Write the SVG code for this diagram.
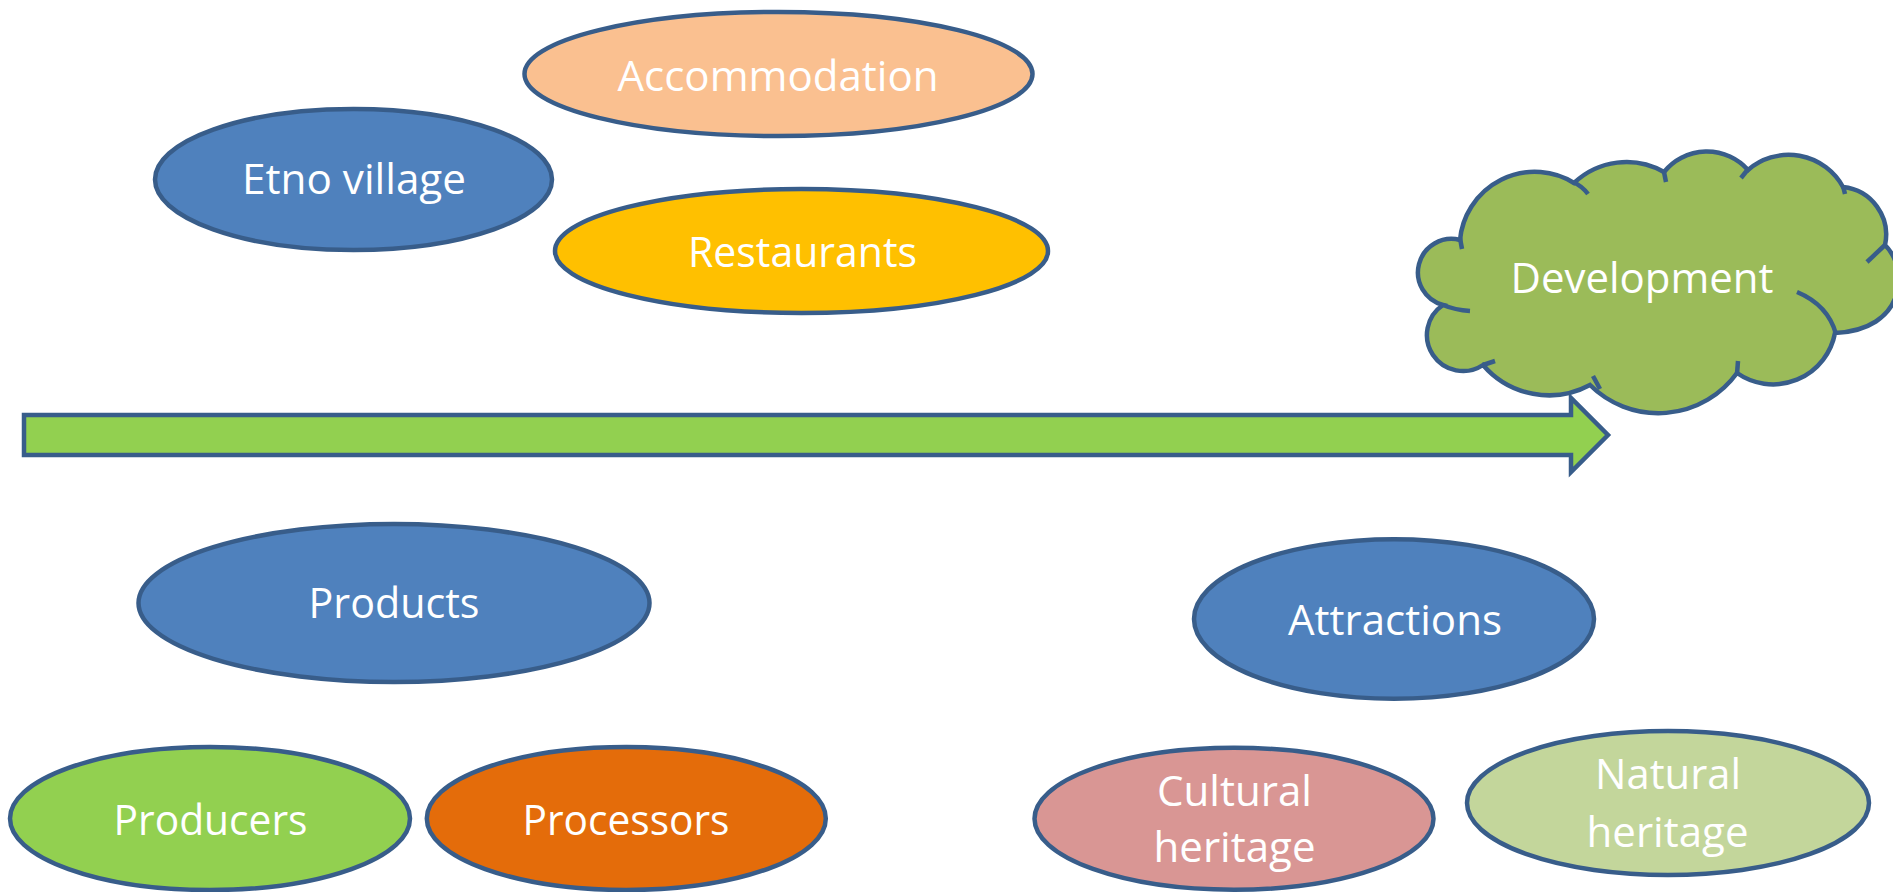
<svg xmlns="http://www.w3.org/2000/svg" width="1893" height="892" viewBox="0 0 1893 892">
<style>
.shape{stroke:#385D8A;stroke-width:4.5;stroke-linejoin:miter}
.tick{fill:none;stroke:#385D8A;stroke-width:4.5;stroke-linecap:butt}
.lbl{font-family:"Open Sans","Noto Sans","Liberation Sans",sans-serif;font-size:42px;fill:#FFFFFF;text-anchor:middle}
</style>
<rect x="0" y="0" width="1893" height="892" fill="#FFFFFF"/>
<g id="connectors">
<polygon class="shape" fill="#92D050" points="24,415 1571,415 1571,398 1608,435 1571,472 1571,455 24,455"/>
</g>
<g id="development">
<path class="shape" fill="#9BBB59" d="M1443,305 A33,33 0 0 1 1460,240 A75,75 0 0 1 1574,183 A76,76 0 0 1 1664,172 A55,55 0 0 1 1748,170 A62,62 0 0 1 1843,187 A48,48 0 0 1 1885,245 C1910,270 1905,330 1835,333 A63,63 0 0 1 1737,373 A97,97 0 0 1 1590,385 A87,87 0 0 1 1483,365 A36,36 0 0 1 1443,305 Z"/>
<path class="tick" d="M1460,238 L1462,249"/>
<path class="tick" d="M1573,182 Q1582,186 1588,194"/>
<path class="tick" d="M1664,172 L1666,182"/>
<path class="tick" d="M1749,168 L1741,178"/>
<path class="tick" d="M1843,186 L1845,194"/>
<path class="tick" d="M1885,245 L1867,262"/>
<path class="tick" d="M1797,292 Q1828,305 1836,334"/>
<path class="tick" d="M1737,374 L1738,361"/>
<path class="tick" d="M1593,376 L1600,389"/>
<path class="tick" d="M1483,365 L1495,361"/>
<path class="tick" d="M1443,305 Q1455,310 1470,311"/>
<text class="lbl" x="1642" y="293" textLength="263" lengthAdjust="spacingAndGlyphs">Development</text>
</g>
<g id="accommodation">
<ellipse class="shape" fill="#FAC090" cx="778.5" cy="74" rx="254" ry="62"/>
<text class="lbl" x="778" y="91" textLength="321" lengthAdjust="spacingAndGlyphs">Accommodation</text>
</g>
<g id="etno-village">
<ellipse class="shape" fill="#4F81BD" cx="353.5" cy="179.5" rx="198.5" ry="70.5"/>
<text class="lbl" x="354" y="194" textLength="224" lengthAdjust="spacingAndGlyphs">Etno village</text>
</g>
<g id="restaurants">
<ellipse class="shape" fill="#FFC000" cx="801.5" cy="251" rx="246.5" ry="62"/>
<text class="lbl" x="802.5" y="266.5" textLength="229" lengthAdjust="spacingAndGlyphs">Restaurants</text>
</g>
<g id="products">
<ellipse class="shape" fill="#4F81BD" cx="394" cy="603" rx="255.5" ry="79"/>
<text class="lbl" x="394" y="618" textLength="171" lengthAdjust="spacingAndGlyphs">Products</text>
</g>
<g id="producers">
<ellipse class="shape" fill="#92D050" cx="210" cy="818.5" rx="200" ry="71.5"/>
<text class="lbl" x="210.5" y="835" textLength="194" lengthAdjust="spacingAndGlyphs">Producers</text>
</g>
<g id="processors">
<ellipse class="shape" fill="#E46C0A" cx="626.3" cy="818.5" rx="199.5" ry="71.5"/>
<text class="lbl" x="626" y="835" textLength="207" lengthAdjust="spacingAndGlyphs">Processors</text>
</g>
<g id="attractions">
<ellipse class="shape" fill="#4F81BD" cx="1394" cy="619" rx="200" ry="79.7"/>
<text class="lbl" x="1395" y="635" textLength="214" lengthAdjust="spacingAndGlyphs">Attractions</text>
</g>
<g id="cultural-heritage">
<ellipse class="shape" fill="#D99694" cx="1234" cy="818.7" rx="199.5" ry="71"/>
<text class="lbl" x="1234.5" y="805.5" textLength="155" lengthAdjust="spacingAndGlyphs">Cultural</text>
<text class="lbl" x="1234.5" y="862" textLength="162" lengthAdjust="spacingAndGlyphs">heritage</text>
</g>
<g id="natural-heritage">
<ellipse class="shape" fill="#C3D69B" cx="1668" cy="803" rx="201" ry="72"/>
<text class="lbl" x="1668" y="789" textLength="146" lengthAdjust="spacingAndGlyphs">Natural</text>
<text class="lbl" x="1667.5" y="846.5" textLength="162" lengthAdjust="spacingAndGlyphs">heritage</text>
</g>
</svg>
